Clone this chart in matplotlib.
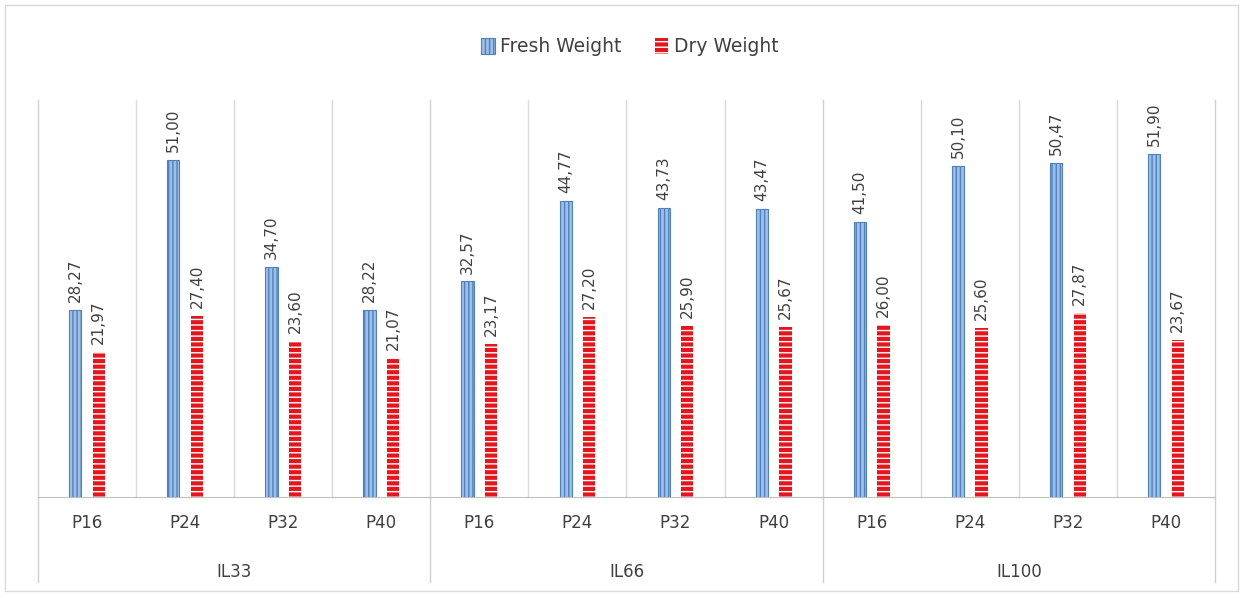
import numpy as np
import matplotlib.pyplot as plt
import matplotlib.transforms as mtransforms
from matplotlib.patches import Patch, Rectangle

plt.rcParams['hatch.linewidth'] = 1.0

groups = ["IL33", "IL66", "IL100"]
levels = ["P16", "P24", "P32", "P40"]
fresh = [28.27, 51.00, 34.70, 28.22, 32.57, 44.77, 43.73, 43.47, 41.50, 50.10, 50.47, 51.90]
dry = [21.97, 27.40, 23.60, 21.07, 23.17, 27.20, 25.90, 25.67, 26.00, 25.60, 27.87, 23.67]

fig = plt.figure(figsize=(12.43, 5.96), dpi=100)
W, H = 1243, 596
ax = fig.add_axes([38 / W, (H - 497) / H, (1215 - 38) / W, (497 - 100) / H])

n = len(fresh)
x = np.arange(n)
bw = 0.125
off = 0.12

ax.bar(x - off, fresh, bw, facecolor="#9dbfe8", edgecolor="#4f81bd", hatch="||||", lw=0.8, zorder=3)
ax.bar(x + off, dry, bw, facecolor="#e8141c", edgecolor="white", hatch="---", lw=0, zorder=3)

lab_kw = dict(rotation=90, ha="center", va="bottom", fontsize=11, color="#404040")
for i in range(n):
    ax.text(x[i] - off, fresh[i] + 1.2, f"{fresh[i]:.2f}".replace(".", ","), **lab_kw)
    ax.text(x[i] + off, dry[i] + 1.2, f"{dry[i]:.2f}".replace(".", ","), **lab_kw)

ax.set_xlim(-0.5, n - 0.5)
ax.set_ylim(0, 60)
ax.set_yticks([])
ax.set_xticks([])
for s in ["top", "left", "right"]:
    ax.spines[s].set_visible(False)
ax.spines["bottom"].set_color("#bfbfbf")

# separators: full height between groups, plot area only between categories
trans = mtransforms.blended_transform_factory(ax.transData, ax.transAxes)
for k in range(n + 1):
    xs = k - 0.5
    if k % 4 == 0:
        ax.plot([xs, xs], [1, -0.214], transform=trans, color="#d0d0d0", lw=1, clip_on=False)
    else:
        ax.plot([xs, xs], [1, 0], transform=trans, color="#d9d9d9", lw=1, clip_on=False)

for i in range(n):
    ax.text(x[i], -0.065, levels[i % 4], transform=trans, ha="center", va="center",
            fontsize=12, color="#404040")
for g, name in enumerate(groups):
    ax.text(g * 4 + 1.5, -0.19, name, transform=trans, ha="center", va="center",
            fontsize=12, color="#404040")

handles = [Patch(facecolor="#9dbfe8", edgecolor="#4f81bd", hatch="||||", lw=0.8),
           Patch(facecolor="#e8141c", edgecolor="white", hatch="---", lw=0)]
fig.legend(handles, ["Fresh Weight", "Dry Weight"], loc="center", bbox_to_anchor=(630 / W, 1 - 47 / H),
           ncol=2, frameon=False, fontsize=13.5, handlelength=0.7, handleheight=0.9,
           handletextpad=0.3, columnspacing=1.8, labelcolor="#404040")

fig.patches.append(Rectangle((5 / W, 5 / H), 1233 / W, 586 / H, transform=fig.transFigure,
                             fill=False, edgecolor="#d9d9d9", lw=1))

fig.savefig("out.png", dpi=100)
